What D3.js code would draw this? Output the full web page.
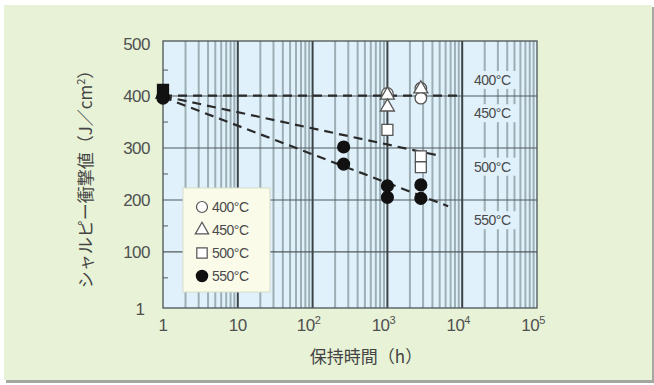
<!DOCTYPE html>
<html>
<head>
<meta charset="utf-8">
<script src="https://cdn.jsdelivr.net/npm/d3@7"></script>
<style>
  html, body { margin: 0; padding: 0; background: #ffffff; }
  svg { display: block; }
</style>
</head>
<body>
<svg id="chart" width="654" height="385"></svg>
<script>
// Holding time (h) and Charpy impact value (J/cm²) per tempering temperature
const xTicks = [1, 10, 100, 1000, 10000, 100000];
const xTickLabels = [["1", ""], ["10", ""], ["10", "2"], ["10", "3"], ["10", "4"], ["10", "5"]];
const yTicks = [100, 200, 300, 400, 500];
const yMinorTicks = [50, 150, 250, 350, 450];

// as-received state, plotted at 1 h
const initialPoints = [
  { series: "400", t: 1, v: 400 },
  { series: "450", t: 1, v: 404 },
  { series: "500", t: 1, v: 412 },
  { series: "550", t: 1, v: 396 }
];
const pts400 = [{ t: 1000, v: 405 }, { t: 2800, v: 415 }, { t: 2800, v: 396 }];
const pts450 = [{ t: 1000, v: 402 }, { t: 1000, v: 379 }, { t: 2800, v: 414 }];
const pts500 = [{ t: 1000, v: 335 }, { t: 2800, v: 284 }, { t: 2800, v: 263 }];
const pts550 = [{ t: 260, v: 302 }, { t: 260, v: 269 }, { t: 1000, v: 227 }, { t: 1000, v: 205 },
                { t: 2800, v: 229 }, { t: 2800, v: 203 }];

// trend lines
const trend400 = [{ t: 1, v: 401 }, { t: 10000, v: 401 }];
const trend500 = [{ t: 1, v: 400 }, { t: 5000, v: 285 }];
const trend550 = [{ t: 1, v: 398 }, { t: 6500, v: 188 }];

const trendLabels = [
  { text: "400°C", v: 431 },
  { text: "450°C", v: 367 },
  { text: "500°C", v: 264 },
  { text: "550°C", v: 161 }
];
const legendItems = [
  { series: "400", text: "400°C" },
  { series: "450", text: "450°C" },
  { series: "500", text: "500°C" },
  { series: "550", text: "550°C" }
];

const svg = d3.select("#chart");
const L = 163, R = 537, T = 41, B = 308;
const x = d3.scaleLog().domain([1, 1e5]).range([L, R]);
const y = d3.scaleLinear().domain([-8, 506]).range([B, T]);

const numFont = "'Liberation Sans', Arial, Helvetica, sans-serif";
const jpFont = "'Noto Sans CJK JP', 'Noto Sans', sans-serif";

// page panel with drop shadow
svg.append("rect").attr("x", 6).attr("y", 7).attr("width", 648).attr("height", 376).attr("fill", "#a4a8a0");
svg.append("rect").attr("x", 4).attr("y", 5).attr("width", 648).attr("height", 375).attr("fill", "#e7f2d6");

// plot background
svg.append("rect").attr("x", L).attr("y", T).attr("width", R - L).attr("height", B - T).attr("fill", "#e0f1fb");

// vertical log grid: minor lines
const minorVals = [];
for (let d = 0; d < 5; d++) for (let k = 2; k <= 9; k++) minorVals.push(k * Math.pow(10, d));
svg.append("g").selectAll("line").data(minorVals).join("line")
  .attr("x1", d => x(d)).attr("x2", d => x(d))
  .attr("y1", T).attr("y2", B)
  .attr("stroke", "#9cafb5").attr("stroke-width", 2);

// horizontal grid
svg.append("g").selectAll("line").data(yTicks.slice(0, 4)).join("line")
  .attr("x1", L).attr("x2", R)
  .attr("y1", d => y(d)).attr("y2", d => y(d))
  .attr("stroke", "#50585c").attr("stroke-width", 1.1);

// major decade lines
svg.append("g").selectAll("line").data(xTicks.slice(1, 5)).join("line")
  .attr("x1", d => x(d)).attr("x2", d => x(d))
  .attr("y1", T).attr("y2", B)
  .attr("stroke", "#3c4447").attr("stroke-width", 2);

// minor y ticks inside left edge
svg.append("g").selectAll("line").data(yMinorTicks).join("line")
  .attr("x1", L).attr("x2", L + 5)
  .attr("y1", d => y(d)).attr("y2", d => y(d))
  .attr("stroke", "#50585c").attr("stroke-width", 1);

// frame
svg.append("rect").attr("x", L).attr("y", T).attr("width", R - L).attr("height", B - T)
  .attr("fill", "none").attr("stroke", "#4a5256").attr("stroke-width", 1.3);

// temperature labels at right, on plot-coloured patches
const tl = svg.append("g");
trendLabels.forEach(d => {
  tl.append("rect").attr("x", 470).attr("y", y(d.v) - 9).attr("width", 48).attr("height", 18).attr("fill", "#e0f1fb");
  tl.append("text").attr("x", 474).attr("y", y(d.v) + 5)
    .attr("font-family", numFont).attr("font-size", 14).attr("fill", "#4a4a4a")
    .attr("letter-spacing", -0.5).text(d.text);
});

// dashed trend lines
const line = d3.line().x(d => x(d.t)).y(d => y(d.v));
[trend400, trend500, trend550].forEach(tr => {
  svg.append("path").datum(tr).attr("d", line)
    .attr("fill", "none").attr("stroke", "#2a2a2a").attr("stroke-width", 2.2)
    .attr("stroke-dasharray", "9,6");
});

// marker drawing
const sym = {
  "400": d3.symbol().type(d3.symbolCircle).size(105),
  "450": d3.symbol().type(d3.symbolTriangle).size(85),
  "500": d3.symbol().type(d3.symbolSquare).size(120),
  "550": d3.symbol().type(d3.symbolCircle).size(110)
};
function drawPoints(data, series, filled) {
  svg.append("g").selectAll("path").data(data).join("path")
    .attr("d", sym[series]())
    .attr("transform", d => `translate(${x(d.t)},${y(d.v)})`)
    .attr("fill", filled ? "#111" : "#ffffff")
    .attr("stroke", filled ? "#111" : "#555")
    .attr("stroke-width", 1.3);
}
drawPoints(pts400, "400", false);
drawPoints(pts450, "450", false);
drawPoints(pts500, "500", false);
drawPoints(pts550, "550", true);
initialPoints.forEach(p => drawPoints([p], p.series, true));

// legend
const lg = svg.append("g");
lg.append("rect").attr("x", 183).attr("y", 188).attr("width", 87).attr("height", 104)
  .attr("fill", "#fbfbea").attr("stroke", "#d8dccb").attr("stroke-width", 1);
legendItems.forEach((d, i) => {
  const cy = 207 + i * 23;
  lg.append("path").attr("d", sym[d.series]())
    .attr("transform", `translate(202,${cy}) scale(0.95)`)
    .attr("fill", d.series === "550" ? "#111" : "#fff")
    .attr("stroke", d.series === "550" ? "#111" : "#555").attr("stroke-width", 1.3);
  lg.append("text").attr("x", 212).attr("y", cy + 5)
    .attr("font-family", numFont).attr("font-size", 14).attr("fill", "#4a4a4a")
    .attr("letter-spacing", -0.5).text(d.text);
});

// y tick labels
svg.append("g").selectAll("text").data(yTicks).join("text")
  .attr("x", 150).attr("y", d => y(d) + 6)
  .attr("text-anchor", "end")
  .attr("font-family", numFont).attr("font-size", 17).attr("fill", "#505050")
  .attr("letter-spacing", -0.5)
  .text(d => d);
svg.append("text").attr("x", 145).attr("y", y.range()[0] + 7)
  .attr("text-anchor", "end")
  .attr("font-family", numFont).attr("font-size", 17).attr("fill", "#505050").text("1");

// x tick labels with superscript exponents
const xl = svg.append("g");
xTicks.forEach((v, i) => {
  const [base, exp] = xTickLabels[i];
  const t = xl.append("text").attr("x", x(v) + (exp ? -4 : 0)).attr("y", 331)
    .attr("text-anchor", "middle")
    .attr("font-family", numFont).attr("font-size", 17).attr("fill", "#505050")
    .attr("letter-spacing", -0.5);
  t.append("tspan").text(base);
  if (exp) t.append("tspan").attr("font-size", 11).attr("dy", -7).text(exp);
});

// axis titles
svg.append("text").attr("x", 366).attr("y", 363)
  .attr("text-anchor", "middle")
  .attr("font-family", jpFont).attr("font-size", 17).attr("fill", "#444")
  .text("保持時間（h）");

const yt = svg.append("text")
  .attr("transform", "translate(92,175) rotate(-90)")
  .attr("text-anchor", "middle")
  .attr("font-family", jpFont).attr("font-size", 17).attr("fill", "#444");
yt.append("tspan").text("シャルピー衝撃値（J／cm");
yt.append("tspan").attr("font-size", 11).attr("dy", -7).text("2");
yt.append("tspan").attr("dy", 7).text("）");
</script>
</body>
</html>
